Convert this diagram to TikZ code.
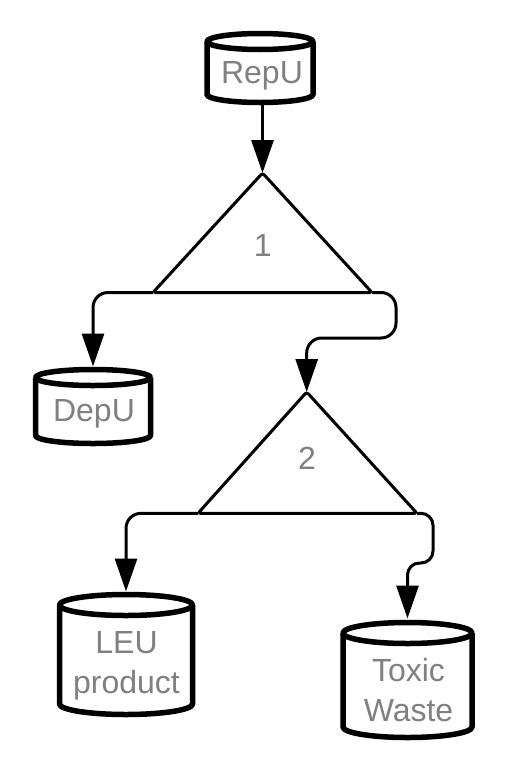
\documentclass[tikz,border=0pt]{standalone}
\usepackage{fontspec}
\setmainfont{Liberation Sans}
\usetikzlibrary{arrows.meta}
\definecolor{textgray}{HTML}{808080}
\newcommand\cylsketch[3]{%
  \draw[cylline] ([yshift=-#3]#1.north west) -- ([yshift=#3]#1.south west)
    arc[start angle=180,end angle=360,x radius=#2,y radius=#3] -- ([yshift=-#3]#1.north east);
  \draw[cylline] ([yshift=-#3]#1.north) ellipse[x radius=#2,y radius=#3];
}
\begin{document}
\begin{tikzpicture}[x=1pt,y=-1pt,
  cylbox/.style={rectangle, inner sep=0pt, outer sep=0pt},
  cylline/.style={line width=5.5pt, line join=round},
  triline/.style={line width=3pt, rounded corners=2.5pt, line join=round},
  flow/.style={line width=3pt, -{Triangle[length=33pt,width=22pt]}},
  lbl/.style={text=textgray, font=\fontsize{32pt}{40pt}\selectfont, inner sep=0pt, align=center}]

\fill[white] (0,0) rectangle (514,769);
\useasboundingbox (0,0) rectangle (514,769);

% storage cylinders
\node[cylbox, minimum width=106pt, minimum height=69pt] (repu) at (260,68) {};
\node[cylbox, minimum width=115pt, minimum height=74pt] (depu) at (93,406.5) {};
\node[cylbox, minimum width=133pt, minimum height=120pt] (leu) at (126,654.5) {};
\node[cylbox, minimum width=129pt, minimum height=115pt] (toxic) at (407.5,680) {};

\cylsketch{repu}{53pt}{8pt}
\cylsketch{depu}{57.5pt}{8pt}
\cylsketch{leu}{66.5pt}{10.5pt}
\cylsketch{toxic}{64.5pt}{10.5pt}

% process triangles
\coordinate (t1a) at (262.5,173);
\coordinate (t1l) at (153,292.5);
\coordinate (t1r) at (372,292.5);
\draw[triline] (t1a) -- (t1r) -- (t1l) -- cycle;
\node[lbl, anchor=base] (n1) at (262.7,256.5) {1};

\coordinate (t2a) at (306.7,392);
\coordinate (t2l) at (198,513.3);
\coordinate (t2r) at (417,513.3);
\draw[triline] (t2a) -- (t2r) -- (t2l) -- cycle;
\node[lbl, anchor=base] (n2) at (307,469.5) {2};

% connectors
\draw[flow] (repu.south -| t1a) -- (t1a);
\draw[flow, rounded corners=15pt, shorten >=3pt] (t1l) -| (depu.north);
\coordinate (b1) at (396,338);
\draw[flow, rounded corners=15pt] (t1r) -| (b1) -| (t2a);
\draw[flow, rounded corners=15pt, shorten >=3pt] (t2l) -| (leu.north);
\coordinate (b2) at (433,563);
\draw[flow, rounded corners=12pt, shorten >=4pt] (t2r) -| (b2) -| (toxic.north);

% labels
\node[lbl, anchor=base] (repu-t) at (262,83) {RepU};
\node[lbl, anchor=base] (depu-t) at (94,421.7) {DepU};
\node[lbl] (leu-t) at (126.5,665.9) {LEU\\product};
\node[lbl] (toxic-t) at (408.5,689.8) {Toxic\\Waste};
\end{tikzpicture}
\end{document}
